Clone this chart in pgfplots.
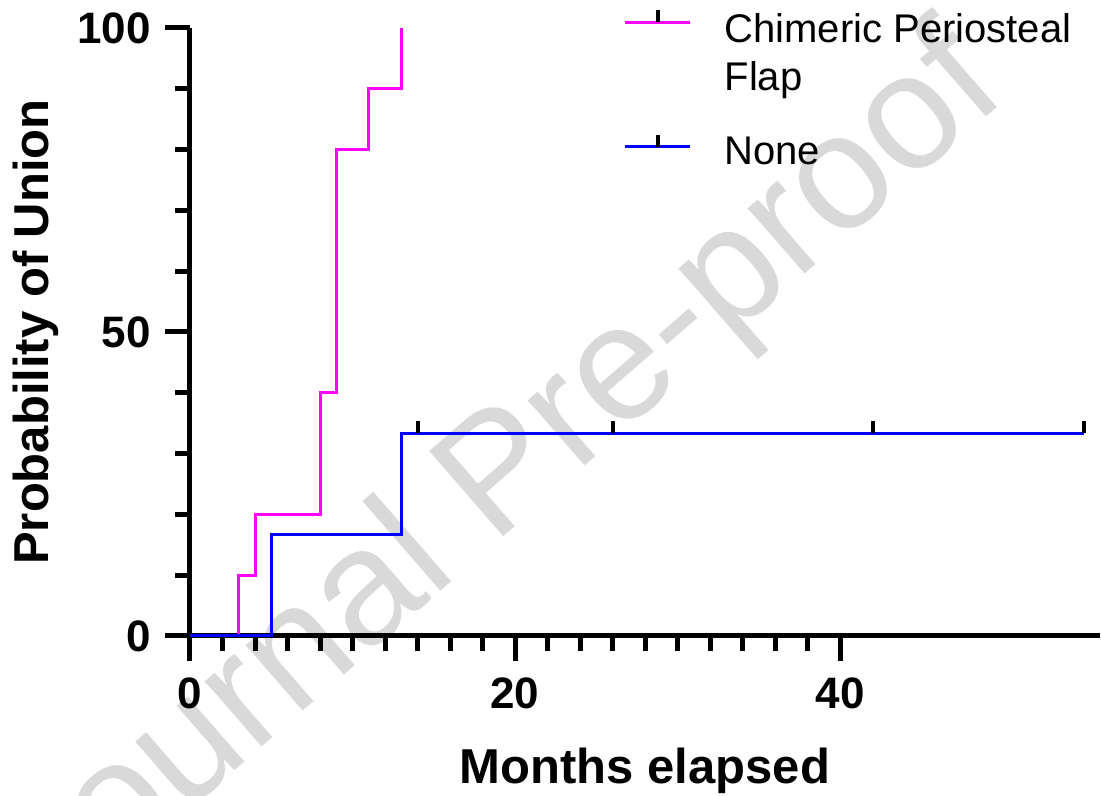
\documentclass[border=0pt]{standalone}
\usepackage{pgfplots}
\pgfplotsset{compat=1.18}
\usepackage{fontspec}
\setmainfont{Liberation Sans}
\definecolor{kmmag}{RGB}{255,0,255}
\definecolor{kmblue}{RGB}{0,0,255}
\pgfdeclareplotmark{cens}{\pgfpathmoveto{\pgfpointorigin}\pgfpathlineto{\pgfpoint{0pt}{6pt}}\pgfusepathqstroke}
\begin{document}
\begin{tikzpicture}
\path[use as bounding box] (-95pt,-80pt) rectangle (455.5pt,318pt);
\node[rotate=41, text=black!15, font=\fontsize{82}{98}\selectfont, anchor=center] at (157pt,78pt) {Journal Pre-proof};
\begin{axis}[
  at={(0,0)}, anchor=south west,
  scale only axis, width=455pt, height=304pt,
  xmin=0, xmax=56, ymin=0, ymax=100,
  clip=false,
  axis x line*=bottom, axis y line*=left,
  axis line style={line width=2.5pt, black},
  xtick={0,20,40}, ytick={0,50,100},
  minor x tick num=9, minor y tick num=4,
  tick align=outside,
  major tick length=12.5pt, minor tick length=7.5pt,
  every tick/.style={black, line width=2.5pt},
  ticklabel style={font=\fontsize{22}{26}\selectfont\bfseries},
  xticklabel style={yshift=-5pt},
  yticklabel style={xshift=-3.5pt},
  /pgf/number format/assume math mode=true,
  xlabel={Months elapsed}, ylabel={Probability of Union},
  label style={font=\fontsize{24.5}{29}\selectfont\bfseries},
  xlabel style={at={(axis description cs:0.5,0)}, anchor=base, yshift=-73.5pt},
  ylabel style={at={(axis description cs:-0.1692,0.5)}, anchor=center},
  legend cell align=left,
  legend style={at={(axis description cs:0.476,1)}, anchor=north west, yshift=9.95pt,
    draw=none, fill=none, inner sep=0pt, row sep=43.5pt,
    nodes={inner sep=0pt},
    font=\fontsize{20}{24}\selectfont,
    /tikz/every odd column/.append style={column sep=16.5pt}},
  legend image code/.code={\draw[#1,line width=1.5pt] (0pt,2.5pt) -- (32.5pt,2.5pt);
    \draw[black,line width=2pt] (16.25pt,2.5pt) -- (16.25pt,8.5pt);},
]
\addplot[kmmag, line width=1.5pt, const plot, mark=none] coordinates {
 (0,0) (3,10) (4,20) (8,40) (9,80) (11,90) (13,100)};
\addlegendentry{\begin{tabular}[t]{@{}l@{}}Chimeric Periosteal\\Flap\end{tabular}}
\addplot[kmblue, line width=1.5pt, const plot, mark=none] coordinates {
 (0,0) (5,16.67) (13,33.33) (55,33.33)};
\addlegendentry{None}
\addplot[only marks, mark=cens, mark options={black, line width=2pt}, forget plot] coordinates {
 (14,33.33) (26,33.33) (42,33.33) (55,33.33)};
\end{axis}
\end{tikzpicture}
\end{document}
